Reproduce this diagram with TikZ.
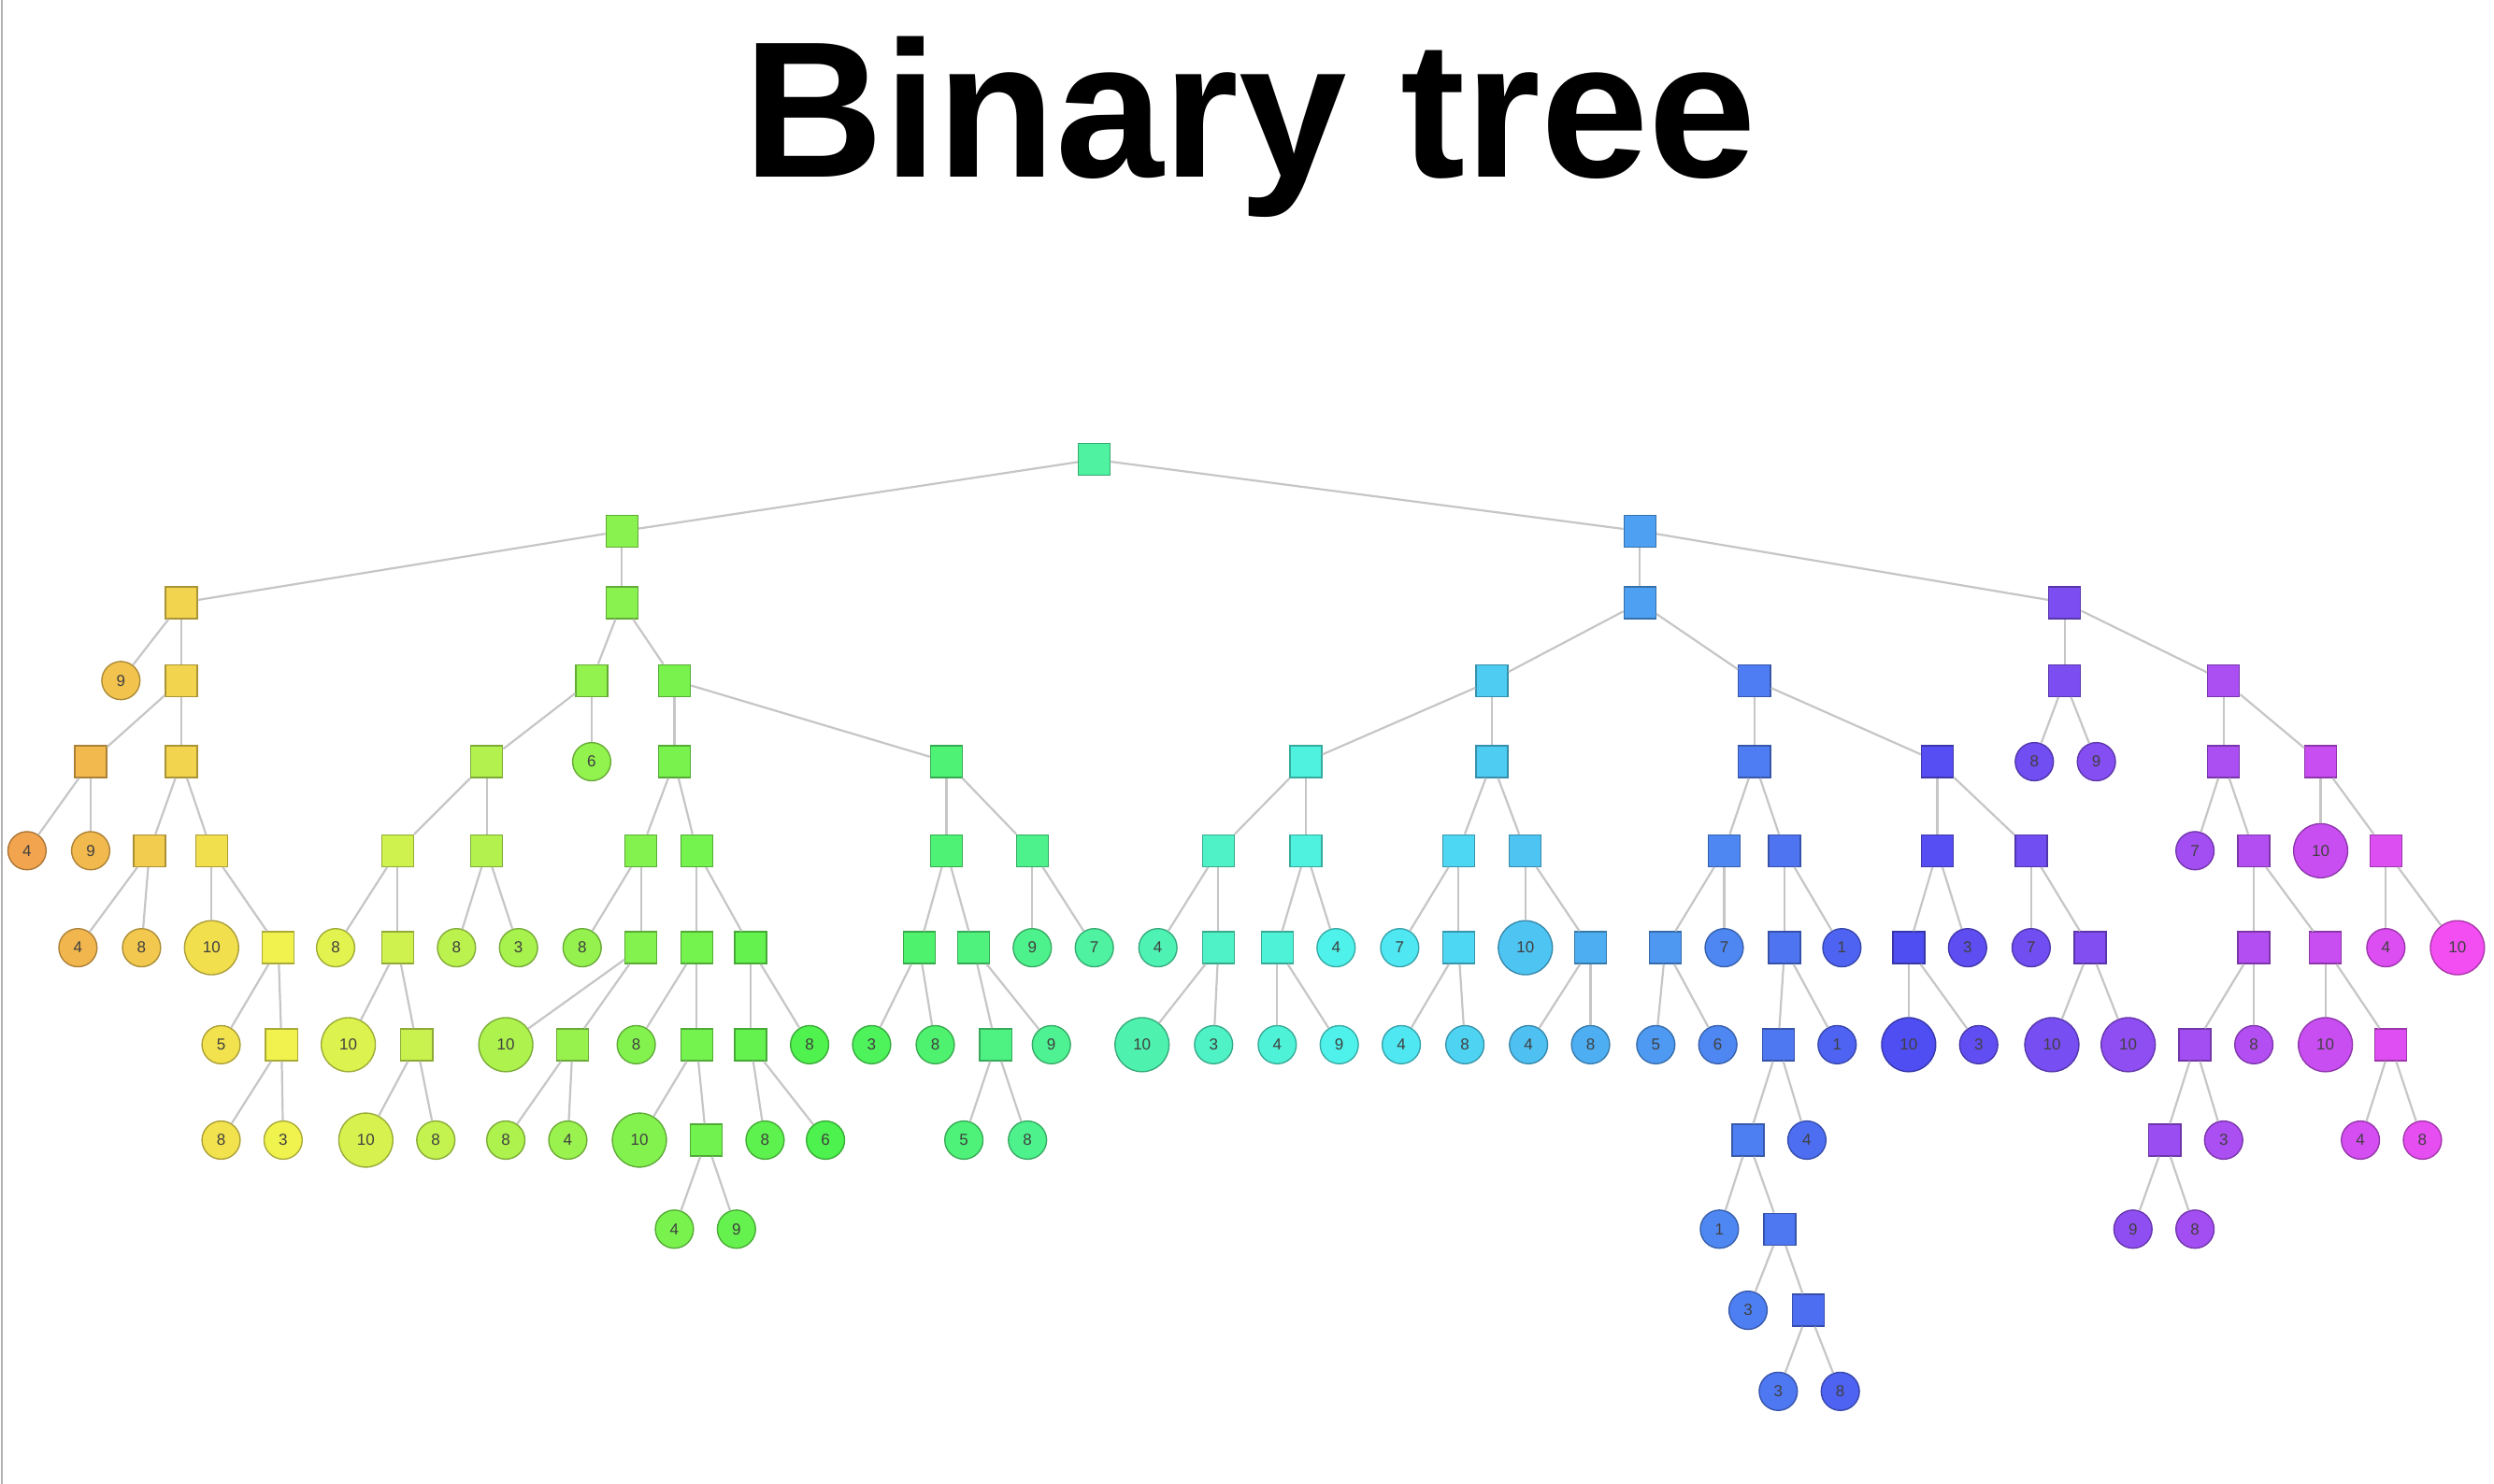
\documentclass[tikz,border=0pt]{standalone}
\usepackage{fontspec}
\setmainfont{Liberation Sans}
\begin{document}
\begin{tikzpicture}[x=1pt,y=-1pt,
  tint/.code={\pgfmathtruncatemacro\hh{mod(30+0.175*#1,360)}\definecolor{tmpc}{Hsb}{\hh,0.68,0.95}\colorlet{tc}[rgb]{tmpc}\pgfkeysalso{fill=tc,draw=tc!70!black}},
  sq/.style={rectangle,minimum size=20pt,inner sep=0pt},
  lf/.style={circle,minimum size=24pt,inner sep=0pt},
  bg/.style={circle,minimum size=34pt,inner sep=0pt},
  edge/.style={draw=gray!45,line width=1.3pt}]
\useasboundingbox (0,0) rectangle (1568,933);
\draw[gray!60,line width=1pt] (1,0) -- (1,933);

% title
\node (title) at (786,80) {\fontsize{122}{134}\selectfont\bfseries Binary tree};

% nodes: id/parent/x/y/kind/label
\foreach \n/\p/\x/\y/\k/\l in {
  1/0/688/289/sq/{}, 2/1/391/334/sq/{}, 3/1/1031/334/sq/{},
  4/2/114/379/sq/{}, 5/2/391/379/sq/{}, 6/4/76/428/lf/9, 7/4/114/428/sq/{},
  8/7/57/479/sq/{}, 9/7/114/479/sq/{}, 10/8/17/535/lf/4, 11/8/57/535/lf/9,
  12/9/94/535/sq/{}, 13/9/133/535/sq/{}, 14/12/49/596/lf/4, 15/12/89/596/lf/8,
  16/13/133/596/bg/10, 17/13/175/596/sq/{}, 18/17/139/657/lf/5, 19/17/177/657/sq/{},
  20/19/139/717/lf/8, 21/19/178/717/lf/3,
  22/5/372/428/sq/{}, 23/5/424/428/sq/{}, 24/22/306/479/sq/{}, 25/22/372/479/lf/6,
  26/24/250/535/sq/{}, 27/24/306/535/sq/{}, 28/26/211/596/lf/8, 29/26/250/596/sq/{},
  30/29/219/657/bg/10, 31/29/262/657/sq/{}, 32/31/230/717/bg/10, 33/31/274/717/lf/8,
  34/27/287/596/lf/8, 35/27/326/596/lf/3,
  36/23/424/479/sq/{}, 37/23/595/479/sq/{}, 38/36/403/535/sq/{}, 39/36/438/535/sq/{},
  40/38/366/596/lf/8, 41/38/403/596/sq/{}, 42/41/318/657/bg/10, 43/41/360/657/sq/{},
  44/43/318/717/lf/8, 45/43/357/717/lf/4,
  46/39/438/596/sq/{}, 47/39/472/596/sq/{}, 48/46/400/657/lf/8, 49/46/438/657/sq/{},
  50/49/402/717/bg/10, 51/49/444/717/sq/{}, 52/51/424/773/lf/4, 53/51/463/773/lf/9,
  54/47/472/657/sq/{}, 55/47/509/657/lf/8, 56/54/481/717/lf/8, 57/54/519/717/lf/6,
  58/37/595/535/sq/{}, 59/37/649/535/sq/{}, 60/58/578/596/sq/{}, 61/58/612/596/sq/{},
  62/60/548/657/lf/3, 63/60/588/657/lf/8, 64/61/626/657/sq/{}, 65/61/661/657/lf/9,
  66/64/606/717/lf/5, 67/64/646/717/lf/8, 68/59/649/596/lf/9, 69/59/688/596/lf/7,
  70/3/1031/379/sq/{}, 71/3/1298/379/sq/{}, 72/70/938/428/sq/{}, 73/70/1103/428/sq/{},
  74/72/821/479/sq/{}, 75/72/938/479/sq/{}, 76/74/766/535/sq/{}, 77/74/821/535/sq/{},
  78/76/728/596/lf/4, 79/76/766/596/sq/{}, 80/79/718/657/bg/10, 81/79/763/657/lf/3,
  82/77/803/596/sq/{}, 83/77/840/596/lf/4, 84/82/803/657/lf/4, 85/82/842/657/lf/9,
  86/75/917/535/sq/{}, 87/75/959/535/sq/{}, 88/86/880/596/lf/7, 89/86/917/596/sq/{},
  90/89/881/657/lf/4, 91/89/921/657/lf/8, 92/87/959/596/bg/10, 93/87/1000/596/sq/{},
  94/93/961/657/lf/4, 95/93/1000/657/lf/8,
  96/73/1103/479/sq/{}, 97/73/1218/479/sq/{}, 98/96/1084/535/sq/{}, 99/96/1122/535/sq/{},
  100/98/1047/596/sq/{}, 101/98/1084/596/lf/7, 102/100/1041/657/lf/5, 103/100/1080/657/lf/6,
  104/99/1122/596/sq/{}, 105/99/1158/596/lf/1, 106/104/1118/657/sq/{}, 107/104/1155/657/lf/1,
  108/106/1099/717/sq/{}, 109/106/1136/717/lf/4, 110/108/1081/773/lf/1, 111/108/1119/773/sq/{},
  112/111/1099/824/lf/3, 113/111/1137/824/sq/{}, 114/113/1118/875/lf/3, 115/113/1157/875/lf/8,
  116/97/1218/535/sq/{}, 117/97/1277/535/sq/{}, 118/116/1200/596/sq/{}, 119/116/1237/596/lf/3,
  120/118/1200/657/bg/10, 121/118/1244/657/lf/3, 122/117/1277/596/lf/7, 123/117/1314/596/sq/{},
  124/123/1290/657/bg/10, 125/123/1338/657/bg/10,
  126/71/1298/428/sq/{}, 127/71/1398/428/sq/{}, 128/126/1279/479/lf/8, 129/126/1318/479/lf/9,
  130/127/1398/479/sq/{}, 131/127/1459/479/sq/{}, 132/130/1380/535/lf/7, 133/130/1417/535/sq/{},
  134/133/1417/596/sq/{}, 135/133/1462/596/sq/{}, 136/134/1380/657/sq/{}, 137/134/1417/657/lf/8,
  138/136/1361/717/sq/{}, 139/136/1398/717/lf/3, 140/138/1341/773/lf/9, 141/138/1380/773/lf/8,
  142/135/1462/657/bg/10, 143/135/1503/657/sq/{}, 144/143/1484/717/lf/4, 145/143/1523/717/lf/8,
  146/131/1459/535/bg/10, 147/131/1500/535/sq/{}, 148/147/1500/596/lf/4, 149/147/1545/596/bg/10}
{
  \node[\k,tint=\x,line width=0.8pt,font=\fontsize{10}{12}\selectfont,text=black!75] (n\n) at (\x,\y) {\l};
  \ifnum\p>0 \draw[edge] (n\p) -- (n\n); \fi
}
\end{tikzpicture}
\end{document}
